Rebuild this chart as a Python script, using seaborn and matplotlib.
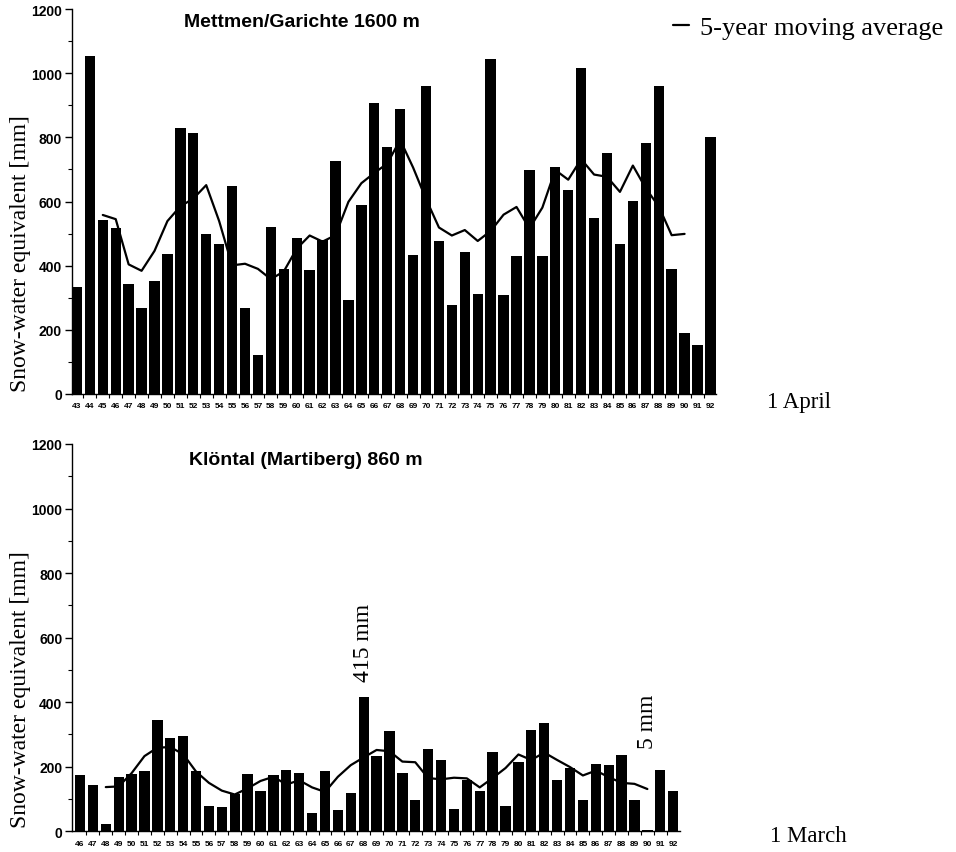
import numpy as np
import pandas as pd
import matplotlib
matplotlib.use("Agg")
import matplotlib.pyplot as plt
import seaborn as sns
from matplotlib.ticker import MultipleLocator, FixedLocator

# ---------------- data ----------------
years_top = list(range(43, 93))
swe_top = [334, 1054, 541, 518, 344, 268, 351, 437, 829, 812,
           498, 469, 647, 269, 122, 522, 390, 487, 388, 479,
           727, 293, 590, 906, 769, 889, 434, 960, 478, 278,
           443, 312, 1044, 309, 431, 699, 431, 708, 637, 1016,
           549, 750, 468, 603, 782, 959, 391, 190, 153, 801]
ma_years_top = list(range(45, 91))
ma_top = [558, 545, 404, 384, 446, 539, 585, 609, 651, 539,
          401, 406, 390, 358, 382, 453, 494, 475, 495, 599,
          657, 689, 718, 792, 706, 608, 519, 494, 511, 477,
          508, 559, 583, 516, 581, 698, 668, 732, 684, 677,
          630, 712, 641, 585, 495, 499]

years_bot = list(range(46, 93))
swe_bot = [174, 143, 22, 167, 177, 188, 345, 288, 296, 186,
           79, 74, 115, 176, 125, 173, 190, 180, 57, 188,
           67, 119, 415, 234, 312, 182, 98, 255, 221, 69,
           160, 126, 246, 78, 215, 314, 336, 160, 197, 96,
           208, 204, 236, 97, 5, 191, 125]
ma_years_bot = list(range(48, 91))
ma_bot = [137, 139, 180, 233, 259, 261, 239, 185, 150, 126,
          114, 133, 156, 169, 145, 158, 136, 122, 169, 205,
          229, 252, 248, 216, 214, 165, 161, 166, 164, 136,
          165, 196, 238, 221, 244, 221, 199, 173, 188, 168,
          150, 147, 131]

title_top = "Mettmen/Garichte 1600 m"
title_bot = "Klöntal (Martiberg) 860 m"
ylabel = "Snow-water equivalent [mm]"
legend_label = "5-year moving average"
date_top = "1 April"
date_bot = "1 March"

# ---------------- style ----------------
sns.set_style("ticks")
plt.rcParams["font.family"] = ["Liberation Sans", "DejaVu Sans"]
for k in ["text.color", "axes.labelcolor", "xtick.color", "ytick.color",
          "axes.edgecolor"]:
    plt.rcParams[k] = "black"

W, H = 956, 853
fig = plt.figure(figsize=(W / 100, H / 100), dpi=100)

def px_axes(left, right, top, bottom):
    return [left / W, 1 - bottom / H, (right - left) / W, (bottom - top) / H]

ax1 = fig.add_axes(px_axes(71.5, 716, 10, 395))
ax2 = fig.add_axes(px_axes(72, 680, 445, 832.3))

serif = ["Liberation Serif", "DejaVu Serif"]


def draw(ax, years, swe, ma_years, ma, xlim, title, title_xy, legend):
    labels = [f"{y:02d}" for y in years]
    df = pd.DataFrame({"year": labels, "swe": swe})
    sns.barplot(data=df, x="year", y="swe", color="black", saturation=1,
                width=0.8, errorbar=None, linewidth=0, ax=ax)
    pos = [years.index(y) for y in ma_years]
    sns.lineplot(x=pos, y=ma, color="black", linewidth=1.6, ax=ax,
                 label=legend_label if legend else None, legend=legend)
    ax.set_xlim(*xlim)
    ax.set_ylim(0, 1200)
    ax.set_xlabel("")
    ax.set_ylabel("")
    ax.yaxis.set_major_locator(MultipleLocator(200))
    ax.yaxis.set_minor_locator(MultipleLocator(100))
    ax.set_xticks(range(len(years)))
    ax.set_xticklabels(labels)
    ax.xaxis.set_minor_locator(FixedLocator(np.arange(0.5, len(years) - 1, 1)))
    ax.tick_params(axis="x", which="major", length=0, pad=6, labelsize=6,
                   colors="black")
    ax.tick_params(axis="x", which="minor", length=3, width=0.8,
                   direction="out", colors="black")
    ax.tick_params(axis="y", which="major", length=5, width=1, direction="out",
                   pad=2, labelsize=10, colors="black")
    ax.tick_params(axis="y", which="minor", length=3, width=0.8,
                   direction="out", colors="black")
    for lab in ax.get_xticklabels() + ax.get_yticklabels():
        lab.set_fontweight("bold")
    sns.despine(ax=ax)
    for s in ["left", "bottom"]:
        ax.spines[s].set_linewidth(1.0)
        ax.spines[s].set_color("black")
    ax.text(title_xy[0], title_xy[1], title, transform=ax.transAxes,
            ha="center", va="center", fontsize=14, fontweight="bold",
            color="black")


draw(ax1, years_top, swe_top, ma_years_top, ma_top, (-0.42, 49.43),
     title_top, ((302 - 71.5) / 644.5, (395 - 22) / 385), True)
draw(ax2, years_bot, swe_bot, ma_years_bot, ma_bot, (-0.62, 46.53),
     title_bot, ((306 - 72) / 608, (832.3 - 460) / 387.3), False)

# y labels
for ax, yc, top, bot, left in [(ax1, 254, 10, 395, 71.5), (ax2, 690, 445, 832.3, 72)]:
    ax.set_ylabel(ylabel, family=serif, fontsize=17, va="center", color="black")
    width = (716 - 71.5) if ax is ax1 else (680 - 72)
    ax.yaxis.set_label_coords((21 - left) / width, (bot - yc) / (bot - top))

# legend
leg = ax1.legend(loc="center left", bbox_to_anchor=(673 / W, 1 - 28 / H),
                 bbox_transform=fig.transFigure, frameon=False,
                 handlelength=0.62, handletextpad=0.42, borderpad=0,
                 borderaxespad=0, prop={"family": serif, "size": 19})
for t in leg.get_texts():
    t.set_color("black")

# annotations
fig.text(767 / W, 1 - 408 / H, date_top, family=serif, fontsize=16.5,
         ha="left", va="baseline", color="black")
fig.text(770 / W, 1 - 842 / H, date_bot, family=serif, fontsize=16.5,
         ha="left", va="baseline", color="black")
ax2.text(years_bot.index(68), 588, "415 mm", rotation=90, family=serif,
         fontsize=17, ha="center", va="center", color="black")
ax2.text(years_bot.index(90), 342, "5 mm", rotation=90, family=serif,
         fontsize=17, ha="center", va="center", color="black")

fig.savefig("out.png", dpi=100)
